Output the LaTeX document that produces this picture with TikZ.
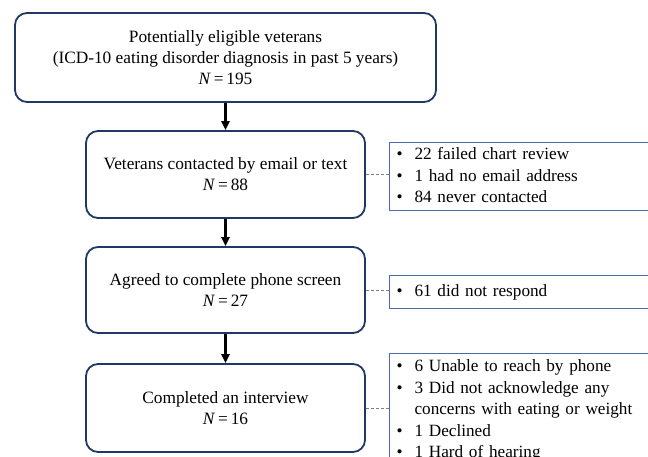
\documentclass[tikz,border=0pt]{standalone}
\usepackage{fontspec}
\setmainfont{Liberation Serif}
\usepackage{xcolor}
\usetikzlibrary{arrows.meta, calc}
\usetikzlibrary{positioning}

\definecolor{navy}{HTML}{1F3864}
\definecolor{steel}{HTML}{4A6CAD}

\begin{document}
\begin{tikzpicture}[
    x=1pt, y=-1pt,
    font=\fontsize{17.3}{21}\selectfont,
    stage/.style={draw=navy, line width=1.8pt, rounded corners=12pt,
                  align=center, inner sep=0pt},
    excl/.style={draw=steel, line width=1pt, anchor=north west,
                 minimum width=300pt, inner xsep=7pt, inner ysep=1pt,
                 text width=286pt, align=left,
                 font=\fontsize{17.2}{21.5}\selectfont},
    flow/.style={-{Triangle[length=9pt, width=8pt]}, line width=2.2pt},
    side/.style={densely dashed, gray, line width=0.8pt},
]
\useasboundingbox (0,0) rectangle (648,457);
\clip (0,0) rectangle (648,457);
% main flow
\node[stage, minimum width=421pt, minimum height=89pt] (pool) at (225.5,57.5)
   {Potentially eligible veterans\\(ICD-10 eating disorder diagnosis in past 5 years)\\\textit{N}\,=\,195};
\node[stage, minimum width=279pt, minimum height=87pt] (contact) at (225.5,174.5)
   {Veterans contacted by email or text\\\textit{N}\,=\,88};
\node[stage, minimum width=279pt, minimum height=86pt] (screen) at (225.5,290)
   {Agreed to complete phone screen\\\textit{N}\,=\,27};
\node[stage, minimum width=279pt, minimum height=88pt] (interview) at (225.5,408)
   {Completed an interview\\\textit{N}\,=\,16};
\draw[flow] (pool) -- (contact);
\draw[flow] (contact) -- (screen);
\draw[flow] (screen) -- (interview);
% exclusions
\node[excl, inner ysep=2pt] (lost1) at (389,142)
   {\begin{tabular}{@{}l@{\hspace{12pt}}l@{}}
    \textbullet & 22 failed chart review\\
    \textbullet & 1 had no email address\\
    \textbullet & 84 never contacted
    \end{tabular}};
\node[excl, minimum height=33pt] (lost2) at (389,275)
   {\begin{tabular}{@{}l@{\hspace{12pt}}l@{}}
    \textbullet & 61 did not respond
    \end{tabular}};
\node[excl, inner ysep=3pt] (lost3) at (389,353)
   {\begin{tabular}{@{}l@{\hspace{12pt}}l@{}}
    \textbullet & 6 Unable to reach by phone\\
    \textbullet & 3 Did not acknowledge any\\
                & concerns with eating or weight\\
    \textbullet & 1 Declined\\
    \textbullet & 1 Hard of hearing
    \end{tabular}};
\draw[side] (contact.east) -- (contact.east -| lost1.west);
\draw[side] (screen.east) -- (screen.east -| lost2.west);
\draw[side] (interview.east) -- (interview.east -| lost3.west);
\end{tikzpicture}
\end{document}
